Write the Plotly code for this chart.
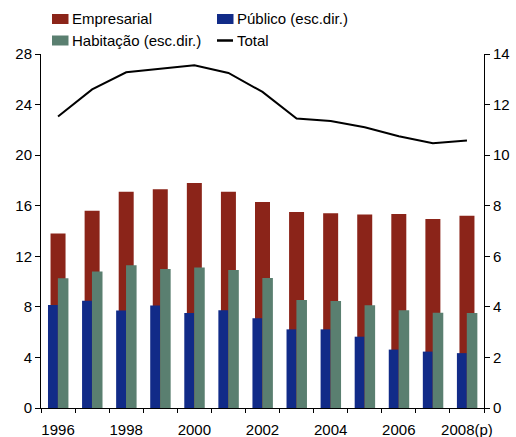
import plotly.graph_objects as go

# Annual series, 1996-2008 (2008 provisional)
years = ["1996", "1997", "1998", "1999", "2000", "2001", "2002",
         "2003", "2004", "2005", "2006", "2007", "2008(p)"]
tick_text = ["1996", "", "1998", "", "2000", "", "2002",
             "", "2004", "", "2006", "", "2008(p)"]

empresarial = [13.8, 15.6, 17.1, 17.3, 17.8, 17.1, 16.3,
               15.5, 15.4, 15.3, 15.35, 14.95, 15.2]
publico = [4.07, 4.24, 3.86, 4.05, 3.76, 3.87, 3.55,
           3.11, 3.11, 2.82, 2.31, 2.23, 2.17]
habitacao = [5.13, 5.40, 5.65, 5.50, 5.56, 5.46, 5.14,
             4.27, 4.23, 4.06, 3.87, 3.77, 3.76]
total = [23.05, 25.2, 26.55, 26.8, 27.1, 26.5, 25.0,
         22.9, 22.7, 22.2, 21.5, 20.95, 21.15]

RED = "#8B2419"
BLUE = "#112B88"
GREEN = "#5A7F70"
FONT = "Liberation Sans, Arial, sans-serif"

W, H = 516, 437
L, R, T, B = 41, 32, 54, 29
PW, PH = W - L - R, H - T - B

fig = go.Figure()

fig.add_trace(go.Bar(x=years, y=empresarial, name="Empresarial",
                     marker=dict(color=RED, line=dict(width=0)),
                     width=0.44, offset=-0.22, yaxis="y"))
fig.add_trace(go.Bar(x=years, y=publico, name="Público (esc.dir.)",
                     marker=dict(color=BLUE, line=dict(width=0)),
                     width=0.29, offset=-0.295, yaxis="y2"))
fig.add_trace(go.Bar(x=years, y=habitacao, name="Habitação (esc.dir.)",
                     marker=dict(color=GREEN, line=dict(width=0)),
                     width=0.31, offset=-0.005, yaxis="y2"))
fig.add_trace(go.Scatter(x=years, y=total, name="Total", mode="lines",
                         line=dict(color="black", width=2), yaxis="y"))


def px_x(px):
    return (px - L) / PW


def px_y(py):
    return (H - B - py) / PH


# Legend drawn as swatches + labels in two columns above the plot
legend_items = [
    ("Empresarial", "box", RED, 52, 19),
    ("Público (esc.dir.)", "box", BLUE, 217, 19),
    ("Habitação (esc.dir.)", "box", GREEN, 52, 40.5),
    ("Total", "line", "black", 217, 40.5),
]
shapes = []
annotations = []
for label, kind, color, sx, cy in legend_items:
    if kind == "box":
        shapes.append(dict(type="rect", xref="paper", yref="paper",
                           x0=px_x(sx), x1=px_x(sx + 16.5),
                           y0=px_y(cy + 5), y1=px_y(cy - 5),
                           fillcolor=color, line=dict(width=0)))
    else:
        shapes.append(dict(type="line", xref="paper", yref="paper",
                           x0=px_x(sx), x1=px_x(sx + 16),
                           y0=px_y(cy), y1=px_y(cy),
                           line=dict(color=color, width=2.5)))
    annotations.append(dict(text=label, xref="paper", yref="paper",
                            x=px_x(sx + 18), y=px_y(cy),
                            xanchor="left", yanchor="middle", showarrow=False,
                            font=dict(family=FONT, size=15, color="black")))

fig.update_layout(
    width=W, height=H,
    margin=dict(l=L, r=R, t=T, b=B, pad=0, autoexpand=False),
    paper_bgcolor="white", plot_bgcolor="white",
    barmode="overlay",
    showlegend=False,
    font=dict(family=FONT, size=15, color="black"),
    shapes=shapes, annotations=annotations,
    xaxis=dict(type="category", categoryorder="array", categoryarray=years,
               tickmode="array", tickvals=years, ticktext=tick_text,
               tickson="boundaries", ticks="outside", ticklen=4,
               ticklabelstandoff=8,
               tickangle=0, automargin=False,
               tickcolor="black", showline=True, linecolor="black",
               linewidth=1, showgrid=False, zeroline=False,
               range=[-0.5, len(years) - 0.5],
               tickfont=dict(family=FONT, size=15)),
    yaxis=dict(range=[0, 28], dtick=4, tick0=0, ticks="outside", ticklen=5,
               automargin=False,
               tickcolor="black", showline=True, linecolor="black",
               linewidth=1, showgrid=False, zeroline=False,
               tickfont=dict(family=FONT, size=15)),
    yaxis2=dict(range=[0, 14], dtick=2, tick0=0, overlaying="y", side="right",
                ticks="outside", ticklen=5, tickcolor="black", automargin=False,
                showline=True, linecolor="black", linewidth=1,
                showgrid=False, zeroline=False,
                tickfont=dict(family=FONT, size=15)),
)

fig.write_html("out.html")
